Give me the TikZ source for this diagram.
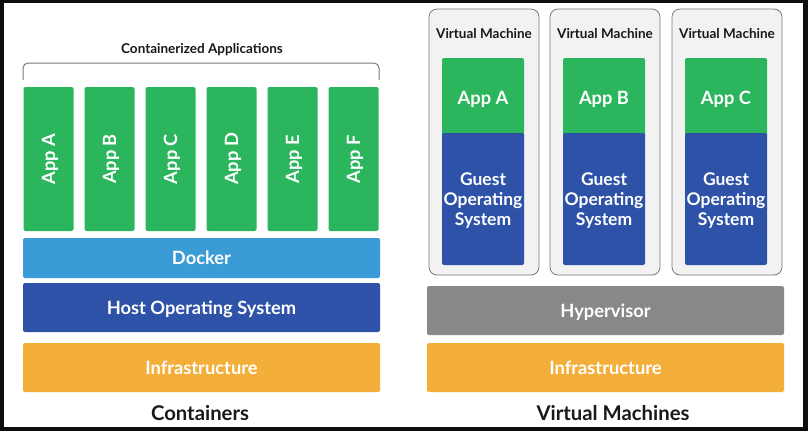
\documentclass[tikz,border=0pt]{standalone}
\usepackage{fontspec}
\setmainfont{Lato}
\usetikzlibrary{positioning}

\definecolor{appgreen}{HTML}{2BB55D}
\definecolor{dockerblue}{HTML}{3A9BD6}
\definecolor{osblue}{HTML}{2E52A8}
\definecolor{infraorange}{HTML}{F4AE3A}
\definecolor{hypergray}{HTML}{888888}
\definecolor{vmgray}{HTML}{F2F2F2}
\definecolor{framegray}{HTML}{7A7A7A}

\tikzset{
  block/.style={rounded corners=2pt,inner sep=0pt,text=white,align=center,text depth=0pt,font=\bfseries\fontsize{18.3}{20}\selectfont},
  layer/.style={block,minimum width=357pt,minimum height=49pt},
  column/.style={block,fill=appgreen,rotate=90,minimum width=144pt,minimum height=50pt},
  vmbox/.style={draw=framegray,fill=vmgray,line width=0.8pt,rounded corners=8pt,minimum width=110pt,minimum height=266pt},
  vmapp/.style={block,fill=appgreen,minimum width=82pt,minimum height=80pt},
  guestos/.style={block,fill=osblue,minimum width=82pt,minimum height=132pt,font=\bfseries\fontsize{17.5}{20}\selectfont},
  heading/.style={font=\bfseries\fontsize{20.3}{24}\selectfont,text=black!90},
  caption/.style={text depth=0pt,font=\bfseries\fontsize{13.5}{15}\selectfont,text=black!90}
}

\begin{document}
\begin{tikzpicture}[x=1pt,y=-1pt]
        % Frame
        \fill[black!95] (0,0) rectangle (808,431);
        \fill[white] (4,3) rectangle (803,427);

        % Left side applications
        \node[caption] (contApps) at (202,48) {Containerized Applications};
        \draw[framegray,line width=1pt,rounded corners=5pt] (23,80) |- (379,63) -- (379,80);

        \node[column] (appA) at (48.5,159) {App A};
        \node[column] (appB) at (109.5,159) {App B};
        \node[column] (appC) at (170.5,159) {App C};
        \node[column] (appD) at (231.5,159) {App D};
        \node[column] (appE) at (292.5,159) {App E};
        \node[column] (appF) at (353.5,159) {App F};

        % Left side layers
        \node[layer,fill=dockerblue,minimum height=40pt] (docker) at (201.5,258) {Docker};
        \node[layer,fill=osblue] (hostOS) at (201.5,307.5) {Host Operating System};
        \node[layer,fill=infraorange] (infra1) at (201.5,367.5) {Infrastructure};
        \node[heading] (containers) at (200,413) {Containers};

        % ================== Right side ==================
        % Virtual machines
        \node[vmbox] (vm1) at (484,142) {};
        \node[vmbox] (vm2) at (605,142) {};
        \node[vmbox] (vm3) at (727,142) {};

        \node[caption] (vmLabel1) at (484,33) {Virtual Machine};
        \node[caption] (vmLabel2) at (605,33) {Virtual Machine};
        \node[caption] (vmLabel3) at (727,33) {Virtual Machine};

        % Apps and guest systems inside the machines
        \node[vmapp] (vmApp1) at (483,98) {App A};
        \node[vmapp] (vmApp2) at (604,98) {App B};
        \node[vmapp] (vmApp3) at (726,98) {App C};

        \node[guestos] (guest1) at (483,199) {Guest\\Operating\\System};
        \node[guestos] (guest2) at (604,199) {Guest\\Operating\\System};
        \node[guestos] (guest3) at (726,199) {Guest\\Operating\\System};

        % Right side layers
        \node[layer,fill=hypergray] (hyper) at (605.5,310.5) {Hypervisor};
        \node[layer,fill=infraorange] (infra2) at (605.5,367.5) {Infrastructure};
        \node[heading] (vms) at (613,413) {Virtual Machines};
        % =================================================

    \end{tikzpicture}
\end{document}
